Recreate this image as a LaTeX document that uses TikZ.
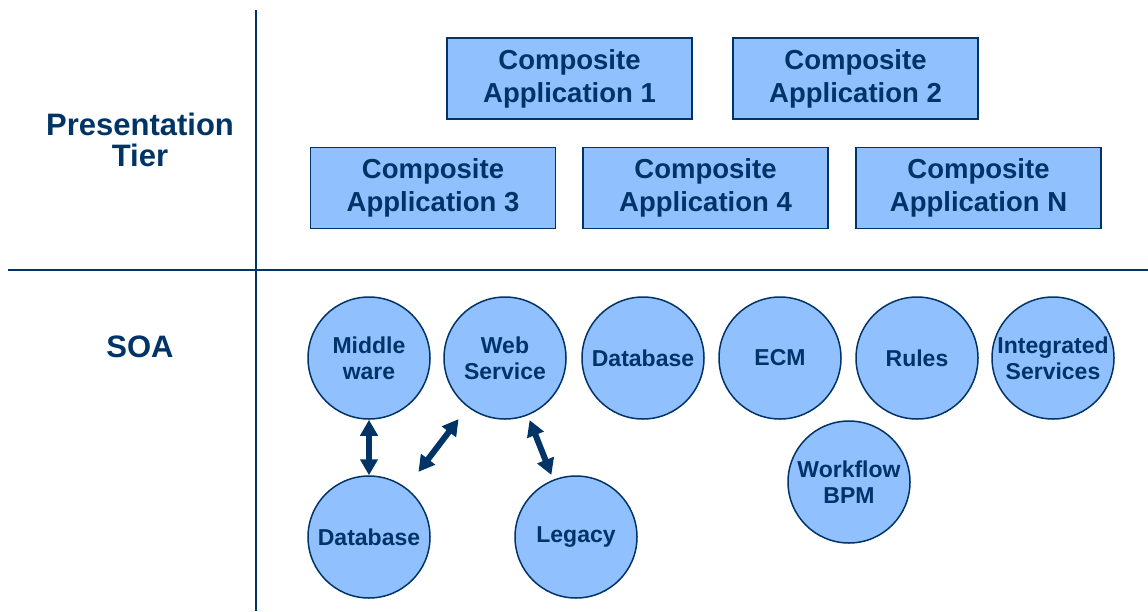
\documentclass[tikz,border=0pt]{standalone}
\usepackage{fontspec}
\setmainfont{Liberation Sans}
\usetikzlibrary{shapes,arrows.meta,calc,positioning}
\definecolor{navy}{RGB}{0,51,102}
\definecolor{boxblue}{RGB}{145,192,255}
\tikzstyle{tier} = [text=navy, font=\fontsize{31}{31}\selectfont\bfseries, align=center]
\tikzstyle{app} = [draw=navy, fill=boxblue, line width=1.5pt, rectangle, minimum width=245pt, minimum height=81pt, text=navy, font=\fontsize{27.5}{33}\selectfont\bfseries, align=center]
\tikzstyle{svc} = [draw=navy, fill=boxblue, line width=1.5pt, circle, minimum size=122pt, inner sep=0pt, text=navy, font=\fontsize{23}{26}\selectfont\bfseries, align=center]
\tikzstyle{rule} = [draw=navy, line width=2pt]
\tikzstyle{link} = [draw=navy, line width=6pt, {Triangle[length=16pt,width=17pt]}-{Triangle[length=16pt,width=17pt]}]

\begin{document}
\begin{tikzpicture}[x=1pt, y=-1pt]
	\useasboundingbox (0,0) rectangle (1148,611);
	% tiers
	\coordinate (vtop) at (256,10);
	\coordinate (vbot) at (256,611);
	\coordinate (hleft) at (8,270);
	\coordinate (hright) at (1148,270);
	\path [rule] (vtop) -- (vbot);
	\path [rule] (hleft) -- (hright);
	\node [tier] (pres) at (140,140) {Presentation\\Tier};
	\node [tier] (soa) at (140,347) {SOA};

	% composite applications
	\node [app] (ca1) at (569.5,78.5) {Composite\\Application 1};
	\node [app] (ca2) at (855.5,78.5) {Composite\\Application 2};
	\node [app] (ca3) at (433,188) {Composite\\Application 3};
	\node [app] (ca4) at (705.5,188) {Composite\\Application 4};
	\node [app] (can) at (978.5,188) {Composite\\Application N};

	% services
	\node [svc] (mw) at (369,358) {Middle\\ware};
	\node [svc] (ws) at (505,358) {Web\\Service};
	\node [svc] (db) at (643,358) {Database};
	\node [svc] (ecm) at (780,358) {ECM};
	\node [svc] (rules) at (917,358) {Rules};
	\node [svc] (integ) at (1053,358) {Integrated\\Services};
	\node [svc] (bpm) at (849,482) {Workflow\\BPM};
	\node [svc] (db2) at (369,537) {Database};
	\node [svc] (legacy) at (576,537) {Legacy};

	\path [link] (mw) -- (db2);
	\path [link, shorten <=15pt, shorten >=20pt] (ws) -- (db2);
	\path [link, shorten <=5pt, shorten >=5pt] (ws) -- (legacy);
\end{tikzpicture}
\end{document}
